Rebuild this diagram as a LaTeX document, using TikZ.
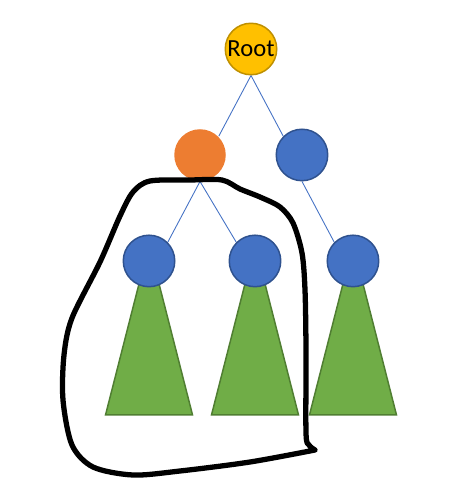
\documentclass[tikz,border=0pt]{standalone}
\usepackage{fontspec}
\setmainfont{Carlito}
\usepackage{tikz}
\usetikzlibrary{positioning, calc, backgrounds}
\definecolor{Gold}{HTML}{FFC000}
\definecolor{GoldEdge}{HTML}{BF9000}
\definecolor{Ember}{HTML}{ED7D31}
\definecolor{Azure}{HTML}{4472C4}
\definecolor{AzureEdge}{HTML}{2F528F}
\definecolor{Leaf}{HTML}{70AD47}
\definecolor{LeafEdge}{HTML}{507E32}
\tikzset{
  treenode/.style={circle, fill=#1, minimum size=1.03cm, inner sep=0pt,
                   line width=0.85pt},
  subtree/.style={fill=Leaf, draw=LeafEdge, line width=0.85pt, line join=miter},
}
\begin{document}
\begin{tikzpicture}[
          x=0.02cm, y=-0.02cm,
          link/.style={color=Azure, line width=0.5pt},
          pen/.style={line width=3pt, line cap=round, line join=round},
          node distance=2.12cm and 1.02cm, on grid
        ]
          \useasboundingbox (0,0) rectangle (475,493);
          \node[treenode=Gold, draw=GoldEdge, font=\fontsize{14}{16}\selectfont] (root) at (251,49) {Root};
          \node[treenode=Ember, below left=of root] (cur) {};
          \node[treenode=Azure, draw=AzureEdge, below right=of root] (sib) {};
          \node[treenode=Azure, draw=AzureEdge, below left=of cur] (l1) {};
          \node[treenode=Azure, draw=AzureEdge, below right=2.12cm and 1.1cm of cur] (l2) {};
          \node[treenode=Azure, draw=AzureEdge, below right=of sib] (l3) {};
          \begin{scope}[on background layer]
            \draw[link] (root.south)--(cur.north east);
            \draw[link] (root.south)--(sib.north west);
            \draw[link] (cur.south)--(l1.north east);
            \draw[link] (cur.south)--(l2.north west);
            \draw[link] (sib.south)--(l3.north west);
            \foreach \t in {l1,l2,l3}
              \draw[subtree] ($(\t)+(-9,19)$) -- ($(\t)+(9,19)$)
                -- ($(\t)+(43.5,154)$) -- ($(\t)+(-43.5,154)$) -- cycle;
          \end{scope}
          % hand-drawn loop round the left subtree
          \draw[pen] plot[smooth] coordinates {(315,450) (250,462) (180,471)
            (133,475) (93,467) (72,445) (63,400) (64,355) (72,318) (100,262)
            (120,216) (133,192) (150,181) (190,180) (222,180) (240,189)
            (260,197) (280,207) (293,223) (302,253) (305,290) (306,350)
            (306,433) (309,445) (315,450)};
        \end{tikzpicture}
\end{document}
